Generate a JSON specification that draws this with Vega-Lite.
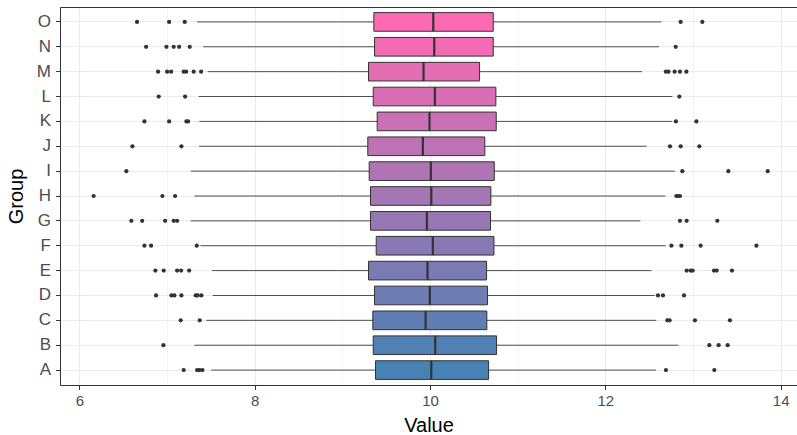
{
  "$schema": "https://vega.github.io/schema/vega-lite/v6.json",
  "width": 737,
  "height": 378,
  "autosize": "none",
  "padding": {"left": 60, "top": 7, "right": 0, "bottom": 50},
  "background": "white",
  "config": {
    "font": "Liberation Sans",
    "view": {"stroke": null},
    "axis": {
      "labelFont": "Liberation Sans",
      "titleFont": "Liberation Sans",
      "labelFontSize": 15,
      "labelColor": "#4D4D4D",
      "titleFontSize": 20,
      "titleFontWeight": "normal",
      "titleColor": "#000000",
      "tickColor": "#333333",
      "tickSize": 4,
      "gridColor": "#EBEBEB",
      "domain": true,
      "domainColor": "#333333",
      "domainWidth": 1
    }
  },
  "resolve": {"axis": {"x": "independent", "y": "independent"}},
  "datasets": {
    "boxes": [
      {"group": "A", "lo": 7.503, "q1": 9.378, "med": 10.014, "q3": 10.668, "hi": 12.577},
      {"group": "B", "lo": 7.312, "q1": 9.352, "med": 10.059, "q3": 10.759, "hi": 12.832},
      {"group": "C", "lo": 7.449, "q1": 9.347, "med": 9.949, "q3": 10.648, "hi": 12.581},
      {"group": "D", "lo": 7.521, "q1": 9.367, "med": 9.998, "q3": 10.656, "hi": 12.562},
      {"group": "E", "lo": 7.514, "q1": 9.298, "med": 9.971, "q3": 10.645, "hi": 12.525},
      {"group": "F", "lo": 7.381, "q1": 9.386, "med": 10.032, "q3": 10.729, "hi": 12.688},
      {"group": "G", "lo": 7.267, "q1": 9.321, "med": 9.964, "q3": 10.69, "hi": 12.399},
      {"group": "H", "lo": 7.312, "q1": 9.321, "med": 10.014, "q3": 10.694, "hi": 12.684},
      {"group": "I", "lo": 7.27, "q1": 9.306, "med": 10.009, "q3": 10.733, "hi": 12.794},
      {"group": "J", "lo": 7.366, "q1": 9.29, "med": 9.918, "q3": 10.625, "hi": 12.471},
      {"group": "K", "lo": 7.369, "q1": 9.397, "med": 9.994, "q3": 10.755, "hi": 12.764},
      {"group": "L", "lo": 7.362, "q1": 9.352, "med": 10.055, "q3": 10.751, "hi": 12.764},
      {"group": "M", "lo": 7.464, "q1": 9.298, "med": 9.926, "q3": 10.565, "hi": 12.418},
      {"group": "N", "lo": 7.412, "q1": 9.367, "med": 10.048, "q3": 10.721, "hi": 12.611},
      {"group": "O", "lo": 7.343, "q1": 9.359, "med": 10.037, "q3": 10.721, "hi": 12.638}
    ],
    "outliers": [
      {"group": "A", "value": 7.19}, {"group": "A", "value": 7.343}, {"group": "A", "value": 7.369}, {"group": "A", "value": 7.404}, {"group": "A", "value": 12.691}, {"group": "A", "value": 13.243},
      {"group": "B", "value": 6.959}, {"group": "B", "value": 13.186}, {"group": "B", "value": 13.292}, {"group": "B", "value": 13.395},
      {"group": "C", "value": 7.156}, {"group": "C", "value": 7.373}, {"group": "C", "value": 12.707}, {"group": "C", "value": 12.733}, {"group": "C", "value": 13.022}, {"group": "C", "value": 13.421},
      {"group": "D", "value": 6.875}, {"group": "D", "value": 7.05}, {"group": "D", "value": 7.084}, {"group": "D", "value": 7.164}, {"group": "D", "value": 7.327}, {"group": "D", "value": 7.35}, {"group": "D", "value": 7.392}, {"group": "D", "value": 12.6}, {"group": "D", "value": 12.657}, {"group": "D", "value": 12.897},
      {"group": "E", "value": 6.867}, {"group": "E", "value": 6.962}, {"group": "E", "value": 7.115}, {"group": "E", "value": 7.161}, {"group": "E", "value": 7.252}, {"group": "E", "value": 12.927}, {"group": "E", "value": 12.973}, {"group": "E", "value": 12.996}, {"group": "E", "value": 13.239}, {"group": "E", "value": 13.27}, {"group": "E", "value": 13.444},
      {"group": "F", "value": 6.742}, {"group": "F", "value": 6.818}, {"group": "F", "value": 7.339}, {"group": "F", "value": 12.753}, {"group": "F", "value": 12.867}, {"group": "F", "value": 13.087}, {"group": "F", "value": 13.723},
      {"group": "G", "value": 6.593}, {"group": "G", "value": 6.716}, {"group": "G", "value": 6.978}, {"group": "G", "value": 7.076}, {"group": "G", "value": 7.115}, {"group": "G", "value": 12.851}, {"group": "G", "value": 12.927}, {"group": "G", "value": 13.277},
      {"group": "H", "value": 6.163}, {"group": "H", "value": 6.947}, {"group": "H", "value": 7.092}, {"group": "H", "value": 12.81}, {"group": "H", "value": 12.83}, {"group": "H", "value": 12.851},
      {"group": "I", "value": 6.536}, {"group": "I", "value": 12.878}, {"group": "I", "value": 13.403}, {"group": "I", "value": 13.852},
      {"group": "J", "value": 6.605}, {"group": "J", "value": 7.164}, {"group": "J", "value": 12.737}, {"group": "J", "value": 12.859}, {"group": "J", "value": 13.072},
      {"group": "K", "value": 6.742}, {"group": "K", "value": 7.024}, {"group": "K", "value": 7.221}, {"group": "K", "value": 7.24}, {"group": "K", "value": 12.805}, {"group": "K", "value": 13.038},
      {"group": "L", "value": 6.905}, {"group": "L", "value": 7.206}, {"group": "L", "value": 12.844},
      {"group": "M", "value": 6.898}, {"group": "M", "value": 7.001}, {"group": "M", "value": 7.047}, {"group": "M", "value": 7.19}, {"group": "M", "value": 7.218}, {"group": "M", "value": 7.304}, {"group": "M", "value": 7.389}, {"group": "M", "value": 12.69}, {"group": "M", "value": 12.72}, {"group": "M", "value": 12.79}, {"group": "M", "value": 12.851}, {"group": "M", "value": 12.924},
      {"group": "N", "value": 6.761}, {"group": "N", "value": 6.993}, {"group": "N", "value": 7.076}, {"group": "N", "value": 7.138}, {"group": "N", "value": 7.259}, {"group": "N", "value": 12.802},
      {"group": "O", "value": 6.658}, {"group": "O", "value": 7.024}, {"group": "O", "value": 7.202}, {"group": "O", "value": 12.859}, {"group": "O", "value": 13.106}
    ]
  },
  "layer": [
    {
      "data": {"name": "boxes"},
      "mark": {"type": "rule", "color": "#333333", "strokeWidth": 1, "opacity": 0.85},
      "encoding": {
        "y": {"field": "group", "type": "nominal", "sort": "descending", "title": "Group",
          "scale": {"type": "band", "paddingInner": 0.25, "paddingOuter": 0.225},
          "axis": {"grid": true, "gridWidth": 1, "labelPadding": 5, "titlePadding": 10, "labelFontSize": 17, "tickSize": 4.5}},
        "x": {"field": "lo", "type": "quantitative", "title": "Value",
          "scale": {"domain": [5.779, 14.186], "nice": false, "zero": false},
          "axis": {
            "values": [6, 7, 8, 9, 10, 11, 12, 13, 14],
            "format": "d",
            "grid": true,
            "gridWidth": {"condition": {"test": "datum.value % 2 === 1", "value": 0.6}, "value": 1.1},
            "tickOpacity": {"condition": {"test": "datum.value % 2 === 1", "value": 0}, "value": 1},
            "labelExpr": "datum.value % 2 === 0 ? datum.label : ''",
            "labelPadding": 4,
            "titlePadding": 7,
            "tickSize": 4.5
          }},
        "x2": {"field": "hi"}
      }
    },
    {
      "data": {"name": "boxes"},
      "mark": {"type": "bar", "stroke": "#333333", "strokeWidth": 1},
      "encoding": {
        "y": {"field": "group", "type": "nominal", "sort": "descending", "axis": null},
        "x": {"field": "q1", "type": "quantitative", "axis": null},
        "x2": {"field": "q3"},
        "fill": {"field": "group", "type": "nominal", "legend": null,
          "scale": {"domain": ["A","B","C","D","E","F","G","H","I","J","K","L","M","N","O"],
            "range": ["#4682B4","#5380B4","#607EB4","#6E7DB4","#7B7BB4","#8879B4","#9577B4","#A376B4","#B074B4","#BD72B4","#CA70B4","#D76EB4","#E56DB4","#F26BB4","#FF69B4"]}}
      }
    },
    {
      "data": {"name": "boxes"},
      "mark": {"type": "tick", "color": "#333333", "thickness": 2.2, "size": 19, "opacity": 1},
      "encoding": {
        "y": {"field": "group", "type": "nominal", "sort": "descending", "axis": null},
        "x": {"field": "med", "type": "quantitative", "axis": null}
      }
    },
    {
      "data": {"name": "outliers"},
      "mark": {"type": "circle", "color": "#333333", "size": 18, "opacity": 1},
      "encoding": {
        "y": {"field": "group", "type": "nominal", "sort": "descending", "axis": null},
        "x": {"field": "value", "type": "quantitative",
          "axis": {"orient": "top", "title": null, "labels": false, "ticks": false, "grid": false, "domain": true}}
      }
    }
  ]
}
